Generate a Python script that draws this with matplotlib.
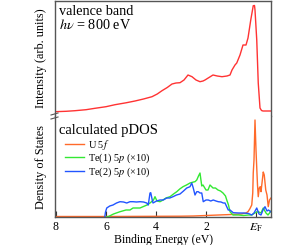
import numpy as np
import matplotlib
matplotlib.use('Agg')
import matplotlib.pyplot as plt

plt.rcParams['font.family'] = ['Liberation Serif', 'DejaVu Serif']
plt.rcParams['mathtext.fontset'] = 'stix'

# valence band spectrum (hv = 800 eV)
vb_energy = [8.05, 7.6, 7.24, 6.8, 6.44, 6.0, 5.64, 5.2, 4.84, 4.5, 4.16, 3.95, 3.76,
             3.55, 3.36, 3.2, 3.04, 2.88, 2.72, 2.56, 2.4, 2.24, 2.12, 2.04, 1.88, 1.72,
             1.55, 1.36, 1.16, 1.04, 0.96, 0.84, 0.77, 0.64, 0.52, 0.46, 0.40, 0.32, 0.21,
             0.11, 0.06, 0.04, -0.03, -0.09, -0.16, -0.22, -0.28, -0.7]
vb_int = [4.3, 4.7, 5.3, 6.3, 7.7, 9.3, 11.3, 13.2, 15.0, 17.0, 19.3, 22.0, 25.3,
          28.5, 32.0, 33.0, 33.3, 36.0, 41.0, 39.3, 36.0, 34.3, 35.0, 36.0, 38.5, 41.0,
          40.0, 39.3, 40.0, 41.0, 46.0, 51.0, 53.0, 61.0, 71.0, 71.0, 71.0, 78.0, 96.0,
          110.3, 110.5, 106.0, 76.0, 33.0, 8.0, 5.5, 5.0, 5.0]

# calculated pDOS
u5f_energy = [8.05, 6.0, 4.0, 3.0, 2.5, 2.0, 1.5, 1.0, 0.6, 0.4, 0.32, 0.25, 0.17, 0.13,
              0.11, 0.08, 0.04, 0.0, -0.03, -0.06, -0.09, -0.13, -0.17, -0.2, -0.24,
              -0.29, -0.33, -0.39, -0.44, -0.49, -0.54, -0.6]
u5f_dos = [0.5, 0.5, 0.7, 0.8, 1.0, 1.5, 2.0, 2.5, 3.0, 4.0, 5.3, 8.0, 12.0, 24.0,
           44.0, 57.0, 97.0, 67.0, 49.0, 32.0, 20.3, 29.0, 30.3, 25.3, 34.0,
           45.0, 42.0, 27.0, 22.0, 10.3, 17.0, 19.0]

te1_energy = [6.0, 5.9, 5.7, 5.44, 5.2, 5.04, 4.92, 4.64, 4.52, 4.36, 4.24, 4.1, 4.04,
              3.96, 3.84, 3.72, 3.6, 3.44, 3.3, 3.17, 3.05, 2.92, 2.78, 2.64, 2.5, 2.44,
              2.37, 2.3, 2.24, 2.17, 2.12, 2.0, 1.92, 1.84, 1.72, 1.62, 1.52, 1.42, 1.32,
              1.22, 1.17, 1.1, 1.04, 0.92, 0.7, 0.5, 0.3, 0.17, 0.05, -0.09, -0.2, -0.29,
              -0.4, -0.48, -0.6]
te1_dos = [0.0, 0.5, 3.0, 5.3, 7.0, 7.0, 9.0, 9.0, 10.3, 12.0, 14.0, 17.0, 20.3,
           16.0, 15.3, 17.0, 19.0, 20.3, 23.0, 25.3, 28.0, 30.3, 32.0, 34.0, 35.0, 35.3,
           37.0, 41.0, 44.0, 31.0, 32.0, 27.0, 27.0, 32.0, 29.0, 29.0, 27.0, 26.0, 24.0,
           21.0, 17.0, 12.0, 5.3, 2.0, 2.0, 1.5, 2.0, 2.0, 4.0, 5.3, 4.0, 9.0,
           4.0, 2.0, 6.0]

te2_energy = [6.05, 6.02, 5.97, 5.85, 5.72, 5.58, 5.44, 5.3, 5.17, 5.04, 4.92, 4.78, 4.64,
              4.5, 4.37, 4.31, 4.24, 4.21, 4.15, 4.12, 3.98, 3.84, 3.71, 3.57, 3.45, 3.32,
              3.18, 3.04, 2.9, 2.77, 2.64, 2.57, 2.51, 2.44, 2.37, 2.31, 2.24, 2.17, 2.11,
              2.0, 1.91, 1.81, 1.71, 1.6, 1.51, 1.4, 1.31, 1.24, 1.11, 1.04, 0.91, 0.7,
              0.5, 0.3, 0.17, 0.08, -0.03, -0.12, -0.2, -0.28, -0.36, -0.44, -0.5, -0.6]
te2_dos = [0.0, 5.0, 9.0, 11.0, 12.0, 14.0, 15.3, 15.0, 14.0, 15.3, 15.3, 15.0, 15.3,
           15.0, 14.0, 12.0, 24.0, 24.3, 17.0, 14.0, 16.0, 17.0, 17.0, 19.0, 19.0, 20.3,
           22.0, 23.0, 26.0, 29.0, 30.3, 34.0, 29.0, 22.0, 25.3, 25.3, 24.0, 24.0, 15.3,
           17.0, 17.0, 16.0, 17.0, 16.0, 15.3, 15.0, 14.0, 14.0, 7.0, 7.0, 4.3, 4.0,
           4.0, 3.5, 2.0, 4.0, 9.0, 3.0, 2.0, 7.0, 10.3, 6.0, 7.0, 5.0]

xticks = [8, 6, 4, 2, 0]
xticklabels = ['8', '6', '4', '2', r'$E_\mathrm{F}$']

fig = plt.figure(figsize=(3.08, 2.45), dpi=100)
left, right = 55 / 308, 271 / 308
y_top, y_mid, y_bot = 1 - 0.8 / 245, 1 - 116 / 245, 1 - 217 / 245
ax1 = fig.add_axes([left, y_mid, right - left, y_top - y_mid])
ax2 = fig.add_axes([left, y_bot, right - left, y_mid - y_bot], sharex=ax1)

ax1.plot(vb_energy, vb_int, color='#ff3333', lw=1.0)
ax2.plot(u5f_energy, u5f_dos, color='#ff6a2a', lw=1.0, label='U 5$f$')
ax2.plot(te1_energy, te1_dos, color='#33e833', lw=1.0, label='Te(1) 5$p$ (×10)')
ax2.plot(te2_energy, te2_dos, color='#2255ff', lw=1.0, label='Te(2) 5$p$ (×10)')

ax1.set_xlim(8.04, -0.6)
ax1.set_ylim(0, 115.2)
ax2.set_ylim(0, 101)

spine_col = '#555555'
for ax in (ax1, ax2):
    for s in ax.spines.values():
        s.set_color(spine_col)
        s.set_linewidth(1.0)
    ax.set_yticks([])
ax1.spines['bottom'].set_visible(False)
ax2.spines['top'].set_visible(False)
ax1.tick_params(axis='x', bottom=False, labelbottom=False)

ax2.set_xticks(xticks)
ax2.set_xticklabels(xticklabels)
ax2.tick_params(axis='x', direction='in', length=4.5, width=0.8, color='#333333',
                labelsize=8.5, pad=3)
ax2.set_xlabel('Binding Energy (eV)', fontsize=8.5, labelpad=0)

ax1.set_ylabel('Intensity (arb. units)', fontsize=8.8, labelpad=6)
ax2.set_ylabel('Density of States', fontsize=8.8, labelpad=6)
fig.align_ylabels([ax1, ax2])

ax1.text(0.02, 0.757, 'valence band\n' + r'$h\nu$ = 800 eV', transform=ax1.transAxes,
         fontsize=10.3, va='baseline', linespacing=0.95)
ax2.text(0.02, 0.82, 'calculated pDOS', transform=ax2.transAxes, fontsize=10.5)

ax2.legend(loc='upper left', bbox_to_anchor=(0.046, 0.785), frameon=False, fontsize=7.4,
           handlelength=1.9, handletextpad=0.3, labelspacing=0.0, borderaxespad=0,
           borderpad=0)

# break marks on the left spine
for dy in (-2.0, 2.0):
    yy = 1 - (116 + dy) / 245
    fig.add_artist(plt.Line2D([left - 4 / 308, left + 3 / 308],
                              [yy - 1 / 245, yy + 1 / 245],
                              color=spine_col, lw=0.8))

fig.savefig('out.png', dpi=100)
